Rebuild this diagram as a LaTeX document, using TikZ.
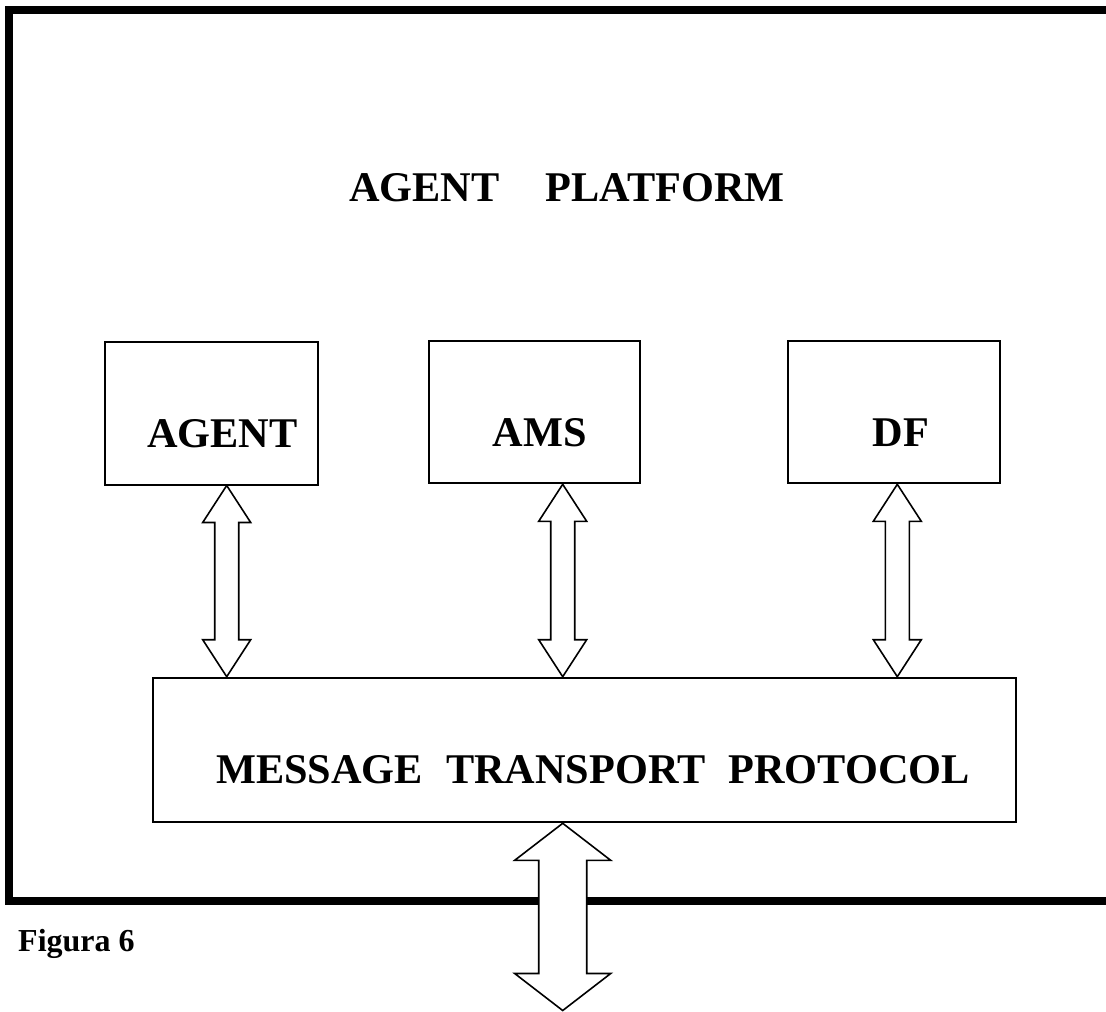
\documentclass[tikz,border=0pt]{standalone}
\usepackage{fontspec}
\setmainfont{Liberation Serif}
\usetikzlibrary{calc}

\tikzset{
  frameline/.style={line width=8pt, line join=miter},
  box/.style={draw, line width=2pt, inner sep=0pt, fill=white},
  lbl/.style={inner sep=0pt, anchor=base west, font=\fontsize{42.3}{48}\selectfont\bfseries},
  caption/.style={inner sep=0pt, anchor=base west, font=\fontsize{32}{38}\selectfont\bfseries},
  arrowshape/.style={draw, line width=1.6pt, fill=white, line join=miter}
}

% hollow double-headed arrow between two vertical tips
% #1 upper tip, #2 lower tip, #3 head half width, #4 shaft half width, #5 head length
\newcommand\hollowdbl[5]{%
  \draw[arrowshape] (#1) -- ($(#1)+(#3,#5)$) -- ($(#1)+(#4,#5)$)
    -- ($(#2)+(#4,-#5)$) -- ($(#2)+(#3,-#5)$) -- (#2)
    -- ($(#2)+(-#3,-#5)$) -- ($(#2)+(-#4,-#5)$)
    -- ($(#1)+(-#4,#5)$) -- ($(#1)+(-#3,#5)$) -- cycle;}

\begin{document}
\begin{tikzpicture}[x=1pt, y=-1pt]
  \useasboundingbox (0,0) rectangle (1106,1012);
  \clip (0,0) rectangle (1106,1012);

  % platform frame (open past the right edge)
  \draw[frameline] (9,10) rectangle (1130,901);

  % title
  \node[lbl] (title) at (349,201.5) {AGENT\hspace{46pt}PLATFORM};

  % components
  \node[box, minimum width=213.3pt, minimum height=142.8pt] (agent) at (211.4,413.1) {};
  \node[box, minimum width=211.5pt, minimum height=142.6pt] (ams) at (534.4,412) {};
  \node[box, minimum width=211.7pt, minimum height=142.6pt] (df) at (894.2,412) {};
  \node[lbl] (agenttxt) at (147,447.5) {AGENT};
  \node[lbl] (amstxt) at (492.5,446) {AMS};
  \node[lbl] (dftxt) at (872.5,446) {DF};

  % message transport
  \node[box, minimum width=863.3pt, minimum height=144.6pt] (mtp) at (584.4,750) {};
  \node[lbl] (mtptxt) at (216,783.3) {MESSAGE\hspace{23pt}TRANSPORT\hspace{23pt}PROTOCOL};

  % arrow end points
  \coordinate (a1) at (226.7,0 |- agent.south);
  \coordinate (a2) at (226.7,0 |- mtp.north);
  \coordinate (b1) at (562.7,0 |- ams.south);
  \coordinate (b2) at (562.7,0 |- mtp.north);
  \coordinate (c1) at (897.3,0 |- df.south);
  \coordinate (c2) at (897.3,0 |- mtp.north);
  \coordinate (d1) at (562.7,0 |- mtp.south);
  \coordinate (out) at (562.7,1010.5);

  \hollowdbl{a1}{a2}{24}{12}{37}
  \hollowdbl{b1}{b2}{24}{12}{37}
  \hollowdbl{c1}{c2}{24}{12}{37}
  \hollowdbl{d1}{out}{48}{24}{37}

  % caption
  \node[caption] (fig) at (18,951) {Figura 6};
\end{tikzpicture}
\end{document}
